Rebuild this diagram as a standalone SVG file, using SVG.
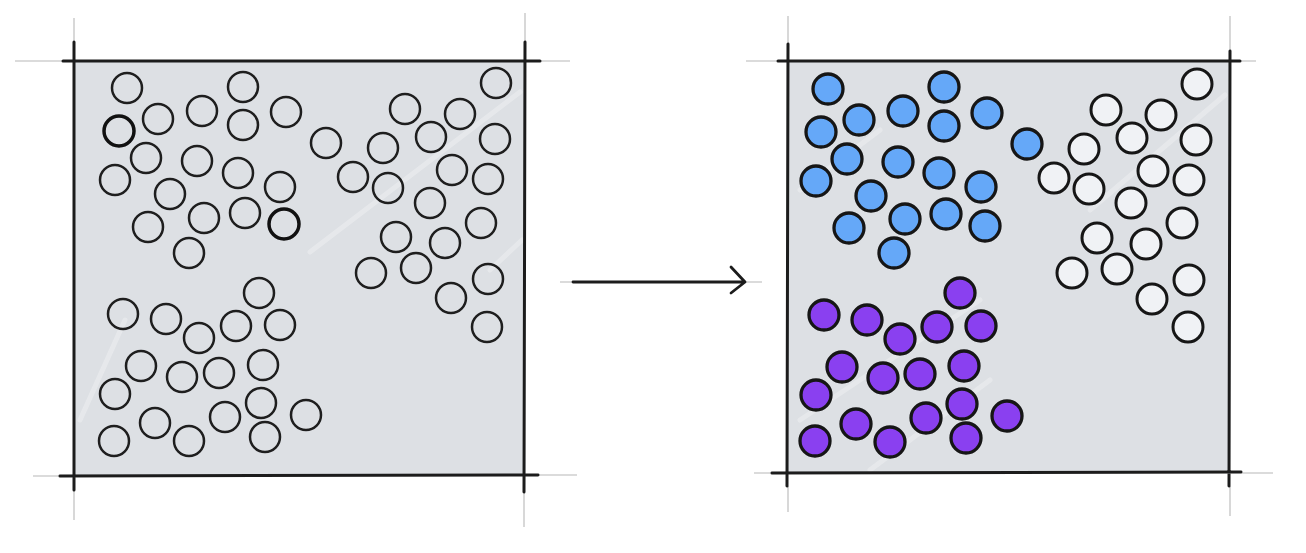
<svg xmlns="http://www.w3.org/2000/svg" width="1306" height="553" viewBox="0 0 1306 553">
<style>
.bg{fill:#dde0e4}
.frame{stroke:#1c1c1c;stroke-width:3;stroke-linecap:round;fill:none}
.ext{stroke:#cfcfcf;stroke-width:1.6;fill:none}
.streak{stroke:#ffffff;stroke-opacity:0.28;stroke-width:5;stroke-linecap:round;fill:none}
.o{fill:none;stroke:#1e1e1e;stroke-width:2.5}
.ob{fill:none;stroke:#111;stroke-width:3.5}
.b{fill:#65a8f8;stroke:#161616;stroke-width:3.3}
.w{fill:#f0f2f5;stroke:#161616;stroke-width:3}
.p{fill:#8a40f0;stroke:#161616;stroke-width:3.3}
.arrow{stroke:#1c1c1c;stroke-width:2.8;stroke-linecap:round;stroke-linejoin:round;fill:none}
</style>
<defs>
<linearGradient id="edge" x1="0" y1="0" x2="1" y2="0">
<stop offset="0" stop-color="#f4f5f7"/>
<stop offset="0.07" stop-color="#dde0e4"/>
<stop offset="1" stop-color="#dde0e4"/>
</linearGradient>
</defs>
<rect width="1306" height="553" fill="#ffffff"/>

<g id="panel-before">
<rect class="bg" x="74" y="61" width="450" height="415" fill="url(#edge)"/>
<path class="streak" d="M310 252 L520 92"/>
<path class="streak" d="M490 270 L522 240"/>
<path class="streak" d="M80 420 L125 320" stroke-width="10"/>
<path class="ext" d="M15 61 L63 61 M540 61 L570 61 M74 18 L74 42 M74 490 L74 520 M525 13 L525 42 M524 492 L524 527 M33 476 L60 476 M538 475 L577 475"/>
<path class="frame" d="M63 61 L540 61 M74 42 L74 490 M525 42 L524 492 M60 476 L538 475"/>
<g id="before-cluster-a">
<circle id="l1" class="o" cx="127" cy="88" r="15"/>
<circle id="l2" class="o" cx="243" cy="87" r="15"/>
<circle id="l3" class="o" cx="158" cy="119" r="15"/>
<circle id="l4" class="o" cx="202" cy="111" r="15"/>
<circle id="l5" class="o" cx="243" cy="125" r="15"/>
<circle id="l6" class="o" cx="286" cy="112" r="15"/>
<circle id="l7" class="ob" cx="119" cy="131" r="15"/>
<circle id="l8" class="o" cx="146" cy="158" r="15"/>
<circle id="l9" class="o" cx="197" cy="161" r="15"/>
<circle id="l10" class="o" cx="238" cy="173" r="15"/>
<circle id="l11" class="o" cx="115" cy="180" r="15"/>
<circle id="l12" class="o" cx="170" cy="194" r="15"/>
<circle id="l13" class="o" cx="280" cy="187" r="15"/>
<circle id="l14" class="o" cx="148" cy="227" r="15"/>
<circle id="l15" class="o" cx="204" cy="218" r="15"/>
<circle id="l16" class="o" cx="245" cy="213" r="15"/>
<circle id="l17" class="ob" cx="284" cy="224" r="15"/>
<circle id="l18" class="o" cx="189" cy="253" r="15"/>
<circle id="l19" class="o" cx="326" cy="143" r="15"/>
</g>
<g id="before-cluster-b">
<circle id="l20" class="o" cx="496" cy="83" r="15"/>
<circle id="l21" class="o" cx="405" cy="109" r="15"/>
<circle id="l22" class="o" cx="460" cy="114" r="15"/>
<circle id="l23" class="o" cx="431" cy="137" r="15"/>
<circle id="l24" class="o" cx="495" cy="139" r="15"/>
<circle id="l25" class="o" cx="383" cy="148" r="15"/>
<circle id="l26" class="o" cx="452" cy="170" r="15"/>
<circle id="l27" class="o" cx="488" cy="179" r="15"/>
<circle id="l28" class="o" cx="353" cy="177" r="15"/>
<circle id="l29" class="o" cx="388" cy="188" r="15"/>
<circle id="l30" class="o" cx="430" cy="203" r="15"/>
<circle id="l31" class="o" cx="481" cy="223" r="15"/>
<circle id="l32" class="o" cx="396" cy="237" r="15"/>
<circle id="l33" class="o" cx="445" cy="243" r="15"/>
<circle id="l34" class="o" cx="371" cy="273" r="15"/>
<circle id="l35" class="o" cx="416" cy="268" r="15"/>
<circle id="l36" class="o" cx="488" cy="279" r="15"/>
<circle id="l37" class="o" cx="451" cy="298" r="15"/>
<circle id="l38" class="o" cx="487" cy="327" r="15"/>
</g>
<g id="before-cluster-c">
<circle id="l39" class="o" cx="259" cy="293" r="15"/>
<circle id="l40" class="o" cx="123" cy="314" r="15" fill="#eef0f3"/>
<circle id="l41" class="o" cx="166" cy="319" r="15"/>
<circle id="l42" class="o" cx="236" cy="326" r="15"/>
<circle id="l43" class="o" cx="280" cy="325" r="15"/>
<circle id="l44" class="o" cx="199" cy="338" r="15"/>
<circle id="l45" class="o" cx="141" cy="366" r="15"/>
<circle id="l46" class="o" cx="263" cy="365" r="15"/>
<circle id="l47" class="o" cx="182" cy="377" r="15"/>
<circle id="l48" class="o" cx="219" cy="373" r="15"/>
<circle id="l49" class="o" cx="115" cy="394" r="15"/>
<circle id="l50" class="o" cx="261" cy="403" r="15"/>
<circle id="l51" class="o" cx="306" cy="415" r="15"/>
<circle id="l52" class="o" cx="155" cy="423" r="15"/>
<circle id="l53" class="o" cx="225" cy="417" r="15"/>
<circle id="l54" class="o" cx="114" cy="441" r="15"/>
<circle id="l55" class="o" cx="189" cy="441" r="15"/>
<circle id="l56" class="o" cx="265" cy="437" r="15"/>
</g>
</g>

<g id="connectors">
<path class="ext" d="M560 282 L573 282 M745 282 L762 282"/>
<path class="arrow" d="M573 282 L745 282 M731 267 L745 282 L731 293"/>
</g>

<g id="panel-after">
<rect class="bg" x="787" y="61" width="443" height="412"/>
<path class="streak" d="M800 190 L880 130"/>
<path class="streak" d="M1090 210 L1225 95"/>
<path class="streak" d="M800 420 L980 300"/>
<path class="streak" d="M870 470 L990 380"/>
<path class="ext" d="M746 61 L778 61 M1240 61 L1256 61 M788 16 L788 44 M788 486 L788 512 M1230 16 L1230 51 M1230 486 L1230 516 M754 473 L772 473 M1241 473 L1273 473"/>
<path class="frame" d="M778 61 L1240 61 M788 44 L787 486 M1230 51 L1229 486 M772 473 L1241 472"/>
<g id="after-blue">
<circle id="r1" class="b" cx="828" cy="89" r="15"/>
<circle id="r2" class="b" cx="944" cy="87" r="15"/>
<circle id="r3" class="b" cx="859" cy="120" r="15"/>
<circle id="r4" class="b" cx="903" cy="111" r="15"/>
<circle id="r5" class="b" cx="944" cy="126" r="15"/>
<circle id="r6" class="b" cx="987" cy="113" r="15"/>
<circle id="r7" class="b" cx="821" cy="132" r="15" stroke-width="3.9"/>
<circle id="r8" class="b" cx="847" cy="159" r="15"/>
<circle id="r9" class="b" cx="898" cy="162" r="15"/>
<circle id="r10" class="b" cx="939" cy="173" r="15"/>
<circle id="r11" class="b" cx="816" cy="181" r="15"/>
<circle id="r12" class="b" cx="871" cy="196" r="15"/>
<circle id="r13" class="b" cx="981" cy="187" r="15"/>
<circle id="r14" class="b" cx="849" cy="228" r="15"/>
<circle id="r15" class="b" cx="905" cy="219" r="15"/>
<circle id="r16" class="b" cx="946" cy="214" r="15"/>
<circle id="r17" class="b" cx="985" cy="226" r="15"/>
<circle id="r18" class="b" cx="894" cy="253" r="15"/>
<circle id="r19" class="b" cx="1027" cy="144" r="15"/>
</g>
<g id="after-white">
<circle id="r20" class="w" cx="1197" cy="84" r="15"/>
<circle id="r21" class="w" cx="1106" cy="110" r="15"/>
<circle id="r22" class="w" cx="1161" cy="115" r="15"/>
<circle id="r23" class="w" cx="1132" cy="138" r="15"/>
<circle id="r24" class="w" cx="1196" cy="140" r="15"/>
<circle id="r25" class="w" cx="1084" cy="149" r="15"/>
<circle id="r26" class="w" cx="1153" cy="171" r="15"/>
<circle id="r27" class="w" cx="1189" cy="180" r="15"/>
<circle id="r28" class="w" cx="1054" cy="178" r="15"/>
<circle id="r29" class="w" cx="1089" cy="189" r="15"/>
<circle id="r30" class="w" cx="1131" cy="203" r="15"/>
<circle id="r31" class="w" cx="1182" cy="223" r="15"/>
<circle id="r32" class="w" cx="1097" cy="238" r="15"/>
<circle id="r33" class="w" cx="1146" cy="244" r="15"/>
<circle id="r34" class="w" cx="1072" cy="273" r="15"/>
<circle id="r35" class="w" cx="1117" cy="269" r="15"/>
<circle id="r36" class="w" cx="1189" cy="280" r="15"/>
<circle id="r37" class="w" cx="1152" cy="299" r="15"/>
<circle id="r38" class="w" cx="1188" cy="327" r="15"/>
</g>
<g id="after-purple">
<circle id="r39" class="p" cx="960" cy="293" r="15"/>
<circle id="r40" class="p" cx="824" cy="315" r="15"/>
<circle id="r41" class="p" cx="867" cy="320" r="15"/>
<circle id="r42" class="p" cx="937" cy="327" r="15"/>
<circle id="r43" class="p" cx="981" cy="326" r="15"/>
<circle id="r44" class="p" cx="900" cy="339" r="15"/>
<circle id="r45" class="p" cx="842" cy="367" r="15"/>
<circle id="r46" class="p" cx="964" cy="366" r="15"/>
<circle id="r47" class="p" cx="883" cy="378" r="15"/>
<circle id="r48" class="p" cx="920" cy="374" r="15"/>
<circle id="r49" class="p" cx="816" cy="395" r="15"/>
<circle id="r50" class="p" cx="962" cy="404" r="15"/>
<circle id="r51" class="p" cx="1007" cy="416" r="15"/>
<circle id="r52" class="p" cx="856" cy="424" r="15"/>
<circle id="r53" class="p" cx="926" cy="418" r="15"/>
<circle id="r54" class="p" cx="815" cy="441" r="15"/>
<circle id="r55" class="p" cx="890" cy="442" r="15"/>
<circle id="r56" class="p" cx="966" cy="438" r="15"/>
</g>
</g>
</svg>
